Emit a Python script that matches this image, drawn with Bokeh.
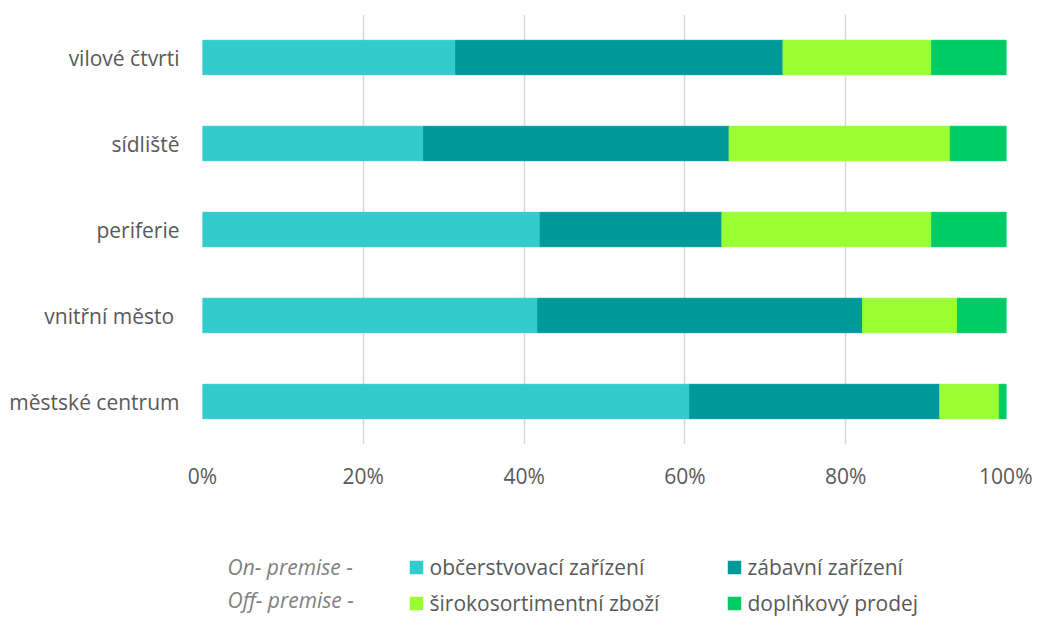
from bokeh.plotting import figure
from bokeh.models import ColumnDataSource, FactorRange, Range1d, FixedTicker, NumeralTickFormatter
from bokeh.layouts import column
from bokeh.core.properties import value
from bokeh.embed import file_html
from bokeh.resources import INLINE

# ---- data (shares in %) ----
categories = ["městské centrum", "vnitřní město ", "periferie", "sídliště", "vilové čtvrti"]
obcerstvovaci = [60.6, 41.7, 42.0, 27.5, 31.5]
zabavni = [31.1, 40.4, 22.6, 38.0, 40.7]
sirokosortimentni = [7.4, 11.8, 26.1, 27.5, 18.5]
doplnkovy = [0.9, 6.1, 9.3, 7.0, 9.3]

series_labels = ["občerstvovací zařízení", "zábavní zařízení", "širokosortimentní zboží", "doplňkový prodej"]
colors = ["#33CCCC", "#009999", "#99FF33", "#00CC66"]
group_labels = ["On- premise  -", "Off- premise -"]
x_ticks = [0, 0.2, 0.4, 0.6, 0.8, 1.0]

FONT = "Open Sans"
TXT = "#595959"
W = 1032
L, R = 202, 1006
MAIN_H = 492
LEG_H = 619 - MAIN_H

keys = ["s0", "s1", "s2", "s3"]
src = ColumnDataSource(dict(
    cat=categories,
    s0=[v / 100 for v in obcerstvovaci],
    s1=[v / 100 for v in zabavni],
    s2=[v / 100 for v in sirokosortimentni],
    s3=[v / 100 for v in doplnkovy],
))

p = figure(width=W, height=MAIN_H, y_range=FactorRange(factors=categories),
           x_range=Range1d(0, 1), output_backend="svg", toolbar_location=None,
           min_border_left=L, min_border_right=W - R, min_border_top=14, min_border_bottom=45)
p.outline_line_color = None
p.background_fill_color = "white"
p.hbar_stack(keys, y="cat", height=0.4, color=colors, source=src)

p.xaxis.ticker = FixedTicker(ticks=x_ticks)
p.xaxis.formatter = NumeralTickFormatter(format="0%")
for ax in (p.xaxis, p.yaxis):
    ax.axis_line_color = None
    ax.major_tick_line_color = None
    ax.minor_tick_line_color = None
    ax.major_tick_out = 0
    ax.major_tick_in = 0
    ax.major_label_text_font = FONT
    ax.major_label_text_font_size = "21px"
    ax.major_label_text_color = TXT
p.xaxis.major_label_standoff = 17
p.yaxis.major_label_standoff = 23
p.xgrid.grid_line_color = "#d9d9d9"
p.xgrid.grid_line_width = 1.5
p.xgrid.ticker = FixedTicker(ticks=x_ticks)
p.ygrid.grid_line_color = None

# ---- legend figure (frame aligned with the main one; x in page pixels) ----
lg = figure(width=W, height=LEG_H, x_range=Range1d(L, R), y_range=Range1d(LEG_H, 0),
            x_axis_type=None, y_axis_type=None, output_backend="svg", toolbar_location=None,
            min_border_left=L, min_border_right=W - R, min_border_top=0, min_border_bottom=0)
lg.outline_line_color = None
lg.xgrid.grid_line_color = None
lg.ygrid.grid_line_color = None

sq_x = [416, 734, 416, 734]
sq_y = [75, 75, 111, 111]
lg.rect(x=sq_x, y=sq_y, width=13.5, height=13.5, fill_color=colors, line_color=None)
lsrc = ColumnDataSource(dict(x=[x + 13 for x in sq_x], y=[y - 1 for y in sq_y], t=series_labels))
lg.text(x="x", y="y", text="t", source=lsrc, text_font=value(FONT), text_font_size=value("21px"),
        text_color=TXT, text_baseline="middle", text_align="left")
gsrc = ColumnDataSource(dict(x=[227, 227], y=[74, 107], t=group_labels))
lg.text(x="x", y="y", text="t", source=gsrc, text_font=value(FONT), text_font_size=value("21px"),
        text_font_style="italic", text_color="#808080", text_baseline="middle", text_align="left")

layout = column(p, lg, spacing=0)
open("out.html", "w").write(file_html(layout, INLINE))
